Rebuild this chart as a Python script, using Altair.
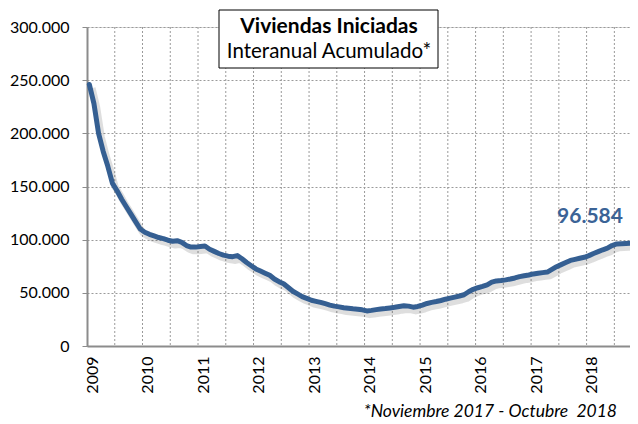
import altair as alt
import pandas as pd

YEARS = list(range(2009, 2019))
VALUES = [
    246000, 228000, 200000, 183000, 169000, 153000, 146000, 138000, 131000, 124000,
    117000, 110000, 107000, 105000, 103500, 102000, 101000, 99500, 98500, 99000,
    97500, 94500, 93000, 93000, 93500, 94000, 91000, 89000, 87000, 85500,
    84500, 84000, 85000, 82000, 78500, 75500, 72500, 70500, 68500, 66500,
    63000, 60500, 58500, 55000, 51500, 49000, 46500, 44800, 43000, 42000,
    41000, 39800, 38500, 37500, 36800, 36000, 35500, 35000, 34600, 34000,
    33000, 33500, 34200, 34800, 35200, 35800, 36400, 37200, 37800, 37500,
    36500, 37200, 38500, 40000, 41000, 41800, 42800, 44000, 45000, 46000,
    47000, 48200, 51000, 53300, 54800, 56000, 57500, 60000, 61200, 61600,
    62200, 63000, 64000, 65200, 66100, 66800, 67800, 68400, 69000, 69500,
    72000, 74600, 76500, 78500, 80500, 81500, 82500, 83400, 85000, 87000,
    88700, 90500, 92000, 94500, 96000, 96200, 96400, 96584,
]
Y_TICKS = [0, 50000, 100000, 150000, 200000, 250000, 300000]
YEAR_TICKS = [12 * k for k in range(len(YEARS))]
GRID_POS = [-0.5 + 6 * k for k in range(1, 20)]
TITLE_LINE1 = "Viviendas Iniciadas"
TITLE_LINE2 = "Interanual Acumulado*"
FOOTNOTE = "*Noviembre 2017 - Octubre \u00a02018"
END_LABEL = "96.584"

FONT = "Lato"
LINE_COLOR = "#355f92"

df = pd.DataFrame({"t": list(range(len(VALUES))), "v": VALUES})
grid_df = pd.DataFrame({"g": GRID_POS})
one = pd.DataFrame({"k": [0]})

xscale = alt.Scale(domain=[-0.5, 116.88], nice=False, zero=False)
yscale = alt.Scale(domain=[0, 300000], nice=False)

x_axis = alt.Axis(
    values=YEAR_TICKS,
    labelExpr="'' + (%d + datum.value / 12)" % YEARS[0],
    grid=False, ticks=False, domainColor="#8c8c8c", domainWidth=2,
    labelAngle=-90, labelFontSize=16, labelFont=FONT, labelColor="#000000",
    labelPadding=10, labelOffset=3, title=None,
)
y_axis = alt.Axis(
    values=Y_TICKS,
    labelExpr="replace(format(datum.value, ','), ',', '.')",
    grid=True, gridDash=[2, 2], gridColor="#9a9a9a", gridWidth=1,
    tickColor="#8c8c8c", tickSize=5, tickWidth=1,
    domainColor="#8c8c8c", domainWidth=2,
    labelFontSize=16, labelFont=FONT, labelColor="#000000", labelPadding=13,
    title=None,
)

grid = alt.Chart(grid_df).mark_rule(
    color="#9a9a9a", strokeDash=[2, 2], strokeWidth=1
).encode(x=alt.X("g:Q", scale=xscale, axis=x_axis))

shadow = alt.Chart(df).transform_calculate(
    ts="datum.t + 0.6", vs="datum.v - 3500"
).mark_line(color="#000000", opacity=0.13, strokeWidth=7, strokeJoin="round").encode(
    x=alt.X("ts:Q", scale=xscale, axis=x_axis),
    y=alt.Y("vs:Q", scale=yscale, axis=y_axis),
)

line = alt.Chart(df).mark_line(
    color=LINE_COLOR, strokeWidth=5, strokeJoin="round", strokeCap="round"
).encode(
    x=alt.X("t:Q", scale=xscale, axis=x_axis),
    y=alt.Y("v:Q", scale=yscale, axis=y_axis),
)

box = alt.Chart(one).mark_rect(
    fill="#ffffff", stroke="#000000", strokeWidth=1
).encode(x=alt.value(132), x2=alt.value(351), y=alt.value(-17), y2=alt.value(41))

t1 = alt.Chart(one).mark_text(
    font=FONT, fontSize=21, fontWeight="bold", color="#000000", align="center", baseline="middle"
).encode(x=alt.value(242), y=alt.value(0), text=alt.value(TITLE_LINE1))

t2 = alt.Chart(one).mark_text(
    font=FONT, fontSize=20.5, color="#000000", align="center", baseline="middle"
).encode(x=alt.value(242), y=alt.value(25), text=alt.value(TITLE_LINE2))

endlab = alt.Chart(one).mark_text(
    font=FONT, fontSize=21, fontWeight="bold", color="#3b6396", align="center", baseline="middle"
).encode(x=alt.value(503), y=alt.value(190), text=alt.value(END_LABEL))

foot = alt.Chart(one).mark_text(
    font=FONT, fontSize=17.5, fontStyle="italic", color="#000000", align="right", baseline="alphabetic"
).encode(x=alt.value(530), y=alt.value(390), text=alt.value(FOOTNOTE))

chart = alt.layer(grid, shadow, line, box, t1, t2, endlab, foot).properties(
    width=543, height=319,
    autosize=alt.AutoSizeParams(type="none"),
    padding={"left": 79, "top": 19, "right": 0, "bottom": 80},
).configure_view(stroke=None).configure(background="#ffffff")

chart.save("out.html", embed_options={"renderer": "svg", "actions": False})
